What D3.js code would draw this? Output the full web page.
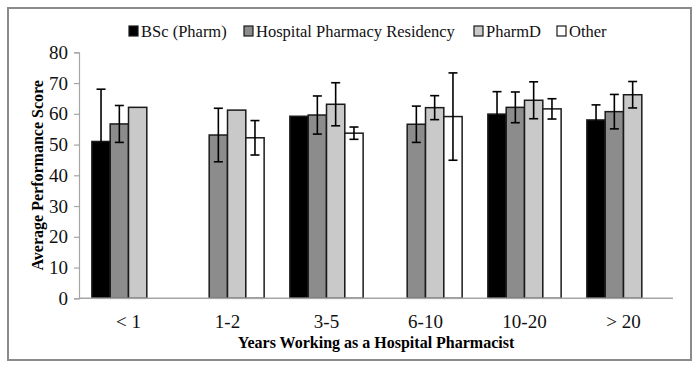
<!DOCTYPE html>
<html>
<head>
<meta charset="utf-8">
<script src="https://cdn.jsdelivr.net/npm/d3@7"></script>
<style>
	body { margin: 0; background: #fff; }
</style>
</head>
<body>
<div id="chart"></div>
<script>
// categories and series
var categories = ["< 1", "1-2", "3-5", "6-10", "10-20", "> 20"];
var seriesNames = ["BSc (Pharm)", "Hospital Pharmacy Residency", "PharmD", "Other"];
var seriesColors = ["#000000", "#8c8c8c", "#c9c9c9", "#ffffff"];
// mean scores, null = no bar
var bscValues = [51, null, 59.2, null, 59.9, 58];
var residencyValues = [56.7, 53.1, 59.6, 56.6, 62.1, 60.7];
var pharmdValues = [62.1, 61.2, 63.1, 62, 64.4, 66.2];
var otherValues = [null, 52.2, 53.7, 59.1, 61.6, null];
// error bar half widths, null = none
var bscErr = [17, null, null, null, 7.3, 4.9];
var residencyErr = [6, 8.7, 6.2, 5.9, 5, 5.6];
var pharmdErr = [null, null, 7, 3.9, 6, 4.3];
var otherErr = [null, 5.6, 2, 14.2, 3.3, null];
var yTicks = [0, 10, 20, 30, 40, 50, 60, 70, 80];

var allValues = [bscValues, residencyValues, pharmdValues, otherValues];
var allErr = [bscErr, residencyErr, pharmdErr, otherErr];

var FONT = "'Liberation Serif', 'Times New Roman', Times, serif";
var width = 700, height = 370;
var margin = { left: 79, right: 27, top: 52.3, bottom: 71.7 };

var svg = d3.select("#chart").append("svg")
	.attr("width", width).attr("height", height)
	.style("font-family", FONT);

// outer frame
svg.append("rect")
	.attr("x", 8).attr("y", 8).attr("width", 683).attr("height", 352)
	.attr("fill", "none").attr("stroke", "#8a8a8a").attr("stroke-width", 2);

var x0 = d3.scaleBand().domain(categories)
	.range([margin.left, width - margin.right]).paddingInner(0.26).paddingOuter(0.13);
var x1 = d3.scaleBand().domain(d3.range(4)).range([0, x0.bandwidth()]);
var y = d3.scaleLinear().domain([0, 80]).range([height - margin.bottom, margin.top]);

// y axis
var yAxis = svg.append("g")
	.attr("transform", "translate(" + margin.left + ",0)")
	.call(d3.axisLeft(y).tickValues(yTicks).tickSize(5).tickPadding(6));
yAxis.attr("font-family", null).attr("font-size", null);
yAxis.select(".domain").attr("stroke", "#a6a6a6").attr("stroke-width", 1.2);
yAxis.selectAll(".tick line").attr("stroke", "#a6a6a6").attr("stroke-width", 1.2);
yAxis.selectAll("text").style("font-family", FONT).style("font-size", "19px").attr("fill", "#111");

// bars
var rows = [];
allValues.forEach(function (vals, s) {
	vals.forEach(function (v, i) {
		if (v !== null) rows.push({ s: s, cat: categories[i], v: v, e: allErr[s][i] });
	});
});

svg.append("g").selectAll("rect").data(rows).enter().append("rect")
	.attr("x", function (d) { return x0(d.cat) + x1(d.s); })
	.attr("y", function (d) { return y(d.v); })
	.attr("width", x1.bandwidth())
	.attr("height", function (d) { return y(0) - y(d.v); })
	.attr("fill", function (d) { return seriesColors[d.s]; })
	.attr("stroke", "#1a1a1a").attr("stroke-width", 1.5);

// x axis line (drawn over bar bottoms)
svg.append("line")
	.attr("x1", margin.left).attr("x2", width - margin.right)
	.attr("y1", y(0)).attr("y2", y(0))
	.attr("stroke", "#a6a6a6").attr("stroke-width", 1.5);

// error bars
var errs = svg.append("g").selectAll("g").data(rows.filter(function (d) { return d.e !== null; }))
	.enter().append("g")
	.attr("stroke", "#000").attr("stroke-width", 1.6);
errs.append("line")
	.attr("x1", function (d) { return x0(d.cat) + x1(d.s) + x1.bandwidth() / 2; })
	.attr("x2", function (d) { return x0(d.cat) + x1(d.s) + x1.bandwidth() / 2; })
	.attr("y1", function (d) { return y(d.v - d.e); })
	.attr("y2", function (d) { return y(d.v + d.e); });
[-1, 1].forEach(function (sign) {
	errs.append("line")
		.attr("x1", function (d) { return x0(d.cat) + x1(d.s) + x1.bandwidth() / 2 - 4.5; })
		.attr("x2", function (d) { return x0(d.cat) + x1(d.s) + x1.bandwidth() / 2 + 4.5; })
		.attr("y1", function (d) { return y(d.v + sign * d.e); })
		.attr("y2", function (d) { return y(d.v + sign * d.e); });
});

// x labels
svg.append("g").selectAll("text").data(categories).enter().append("text")
	.attr("x", function (d) { return x0(d) + x0.bandwidth() / 2; })
	.attr("y", 328)
	.attr("text-anchor", "middle")
	.style("font-size", "19px").attr("fill", "#111")
	.text(function (d) { return d; });

// axis titles
svg.append("text")
	.attr("x", 376).attr("y", 348)
	.attr("text-anchor", "middle")
	.style("font-size", "16px").style("font-weight", "bold")
	.text("Years Working as a Hospital Pharmacist");
svg.append("text")
	.attr("transform", "translate(43," + ((y(0) + y(80)) / 2) + ") rotate(-90)")
	.attr("text-anchor", "middle")
	.style("font-size", "16px").style("font-weight", "bold")
	.text("Average Performance Score");

// legend
var legendX = [129, 244, 474, 557];
var legend = svg.append("g").selectAll("g").data(seriesNames).enter().append("g")
	.attr("transform", function (d, i) { return "translate(" + legendX[i] + ",26)"; });
legend.append("rect")
	.attr("width", 9).attr("height", 10)
	.attr("fill", function (d, i) { return seriesColors[i]; })
	.attr("stroke", "#1a1a1a").attr("stroke-width", 1.2);
legend.append("text")
	.attr("x", 12).attr("y", 10.5)
	.style("font-size", "16.5px").attr("fill", "#111")
	.text(function (d) { return d; });
</script>
</body>
</html>
